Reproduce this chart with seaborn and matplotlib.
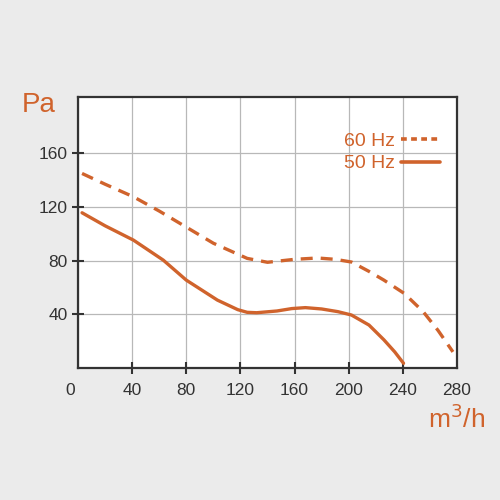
import matplotlib
matplotlib.use('Agg')
import matplotlib.pyplot as plt
import matplotlib.transforms as mtransforms
import pandas as pd
import seaborn as sns

ORANGE = '#d0632c'

# airflow (m3/h) and pressure (Pa)
flow_60 = [3, 20, 41, 60, 80, 100, 125, 140, 160, 177, 190, 202, 215, 226, 241, 255, 266, 277]
pa_60 = [145, 137, 127.6, 117, 105, 93, 81.7, 78.8, 81, 82, 81, 79, 72, 65.5, 55.6, 42, 28, 12]

flow_50 = [3, 20, 41, 63, 80, 103, 118, 125, 132, 147, 158, 168, 180, 192, 202, 215, 226, 234, 240.5]
pa_50 = [115.7, 106, 95.3, 80.4, 65.5, 50.6, 43.5, 41.5, 41.2, 42.5, 44.3, 45, 44, 42, 39.5, 32, 21, 12, 3.5]

x_ticks = [0, 40, 80, 120, 160, 200, 240, 280]
y_ticks = [40, 80, 120, 160]

df = pd.concat([
    pd.DataFrame({'flow': flow_60, 'pa': pa_60, 'freq': '60 Hz'}),
    pd.DataFrame({'flow': flow_50, 'pa': pa_50, 'freq': '50 Hz'}),
])

sns.set_theme(style='white')
plt.rcParams['font.family'] = ['Liberation Sans', 'DejaVu Sans']

fig = plt.figure(figsize=(5, 5), dpi=100, facecolor='#ebebeb')
ax = fig.add_axes([0.156, 0.264, 0.758, 0.542])
ax.set_facecolor('white')

sns.lineplot(data=df, x='flow', y='pa', hue='freq', style='freq',
             palette={'60 Hz': ORANGE, '50 Hz': ORANGE},
             dashes={'60 Hz': (3.6, 2.4), '50 Hz': ''},
             linewidth=2.4, sort=False, estimator=None, ax=ax, legend=False)

ax.set_xlim(0, 280)
ax.set_ylim(0, 202)
ax.set_xticks(x_ticks)
ax.set_yticks(y_ticks)
ax.set_xticklabels([str(t) for t in x_ticks])
ax.set_yticklabels([str(t) for t in y_ticks])
ax.set_xlabel('')
ax.set_ylabel('')
ax.grid(True, color='#b8b8b8', linewidth=0.9)
ax.tick_params(axis='both', direction='inout', length=9, width=1.5, color='#333333',
               labelsize=12.5, labelcolor='#333333', bottom=True, left=True)
ax.tick_params(axis='x', pad=6)
ax.tick_params(axis='y', pad=3)
for sp in ax.spines.values():
    sp.set_color('#333333')
    sp.set_linewidth(1.6)

# shift the "0" label a little to the left like the original
lbl0 = ax.get_xticklabels()[0]
lbl0.set_transform(lbl0.get_transform() + mtransforms.ScaledTranslation(-0.08, 0, fig.dpi_scale_trans))
ax.xaxis.get_major_ticks()[0].tick1line.set_visible(False)
ax.xaxis.get_major_ticks()[-1].tick1line.set_visible(False)

# legend: labels on the left, line samples on the right
handles = [plt.Line2D([], [], color=ORANGE, lw=2.6, dashes=(1.6, 1.2)),
           plt.Line2D([], [], color=ORANGE, lw=2.6)]
leg = ax.legend(handles, ['60 Hz', '50 Hz'], loc='upper right', bbox_to_anchor=(0.99, 0.92),
                frameon=False, markerfirst=False, handlelength=2.0, handletextpad=0.3,
                labelspacing=0.25, fontsize=14, borderpad=0.2)
for t in leg.get_texts():
    t.set_color(ORANGE)

fig.text(0.077, 0.79, 'Pa', color=ORANGE, fontsize=20, ha='center', va='center')
fig.text(0.914, 0.163, 'm$^3$/h', color=ORANGE, fontsize=19, ha='center', va='center',
         math_fontfamily='dejavusans')

fig.savefig('out.png', dpi=100, facecolor=fig.get_facecolor())
